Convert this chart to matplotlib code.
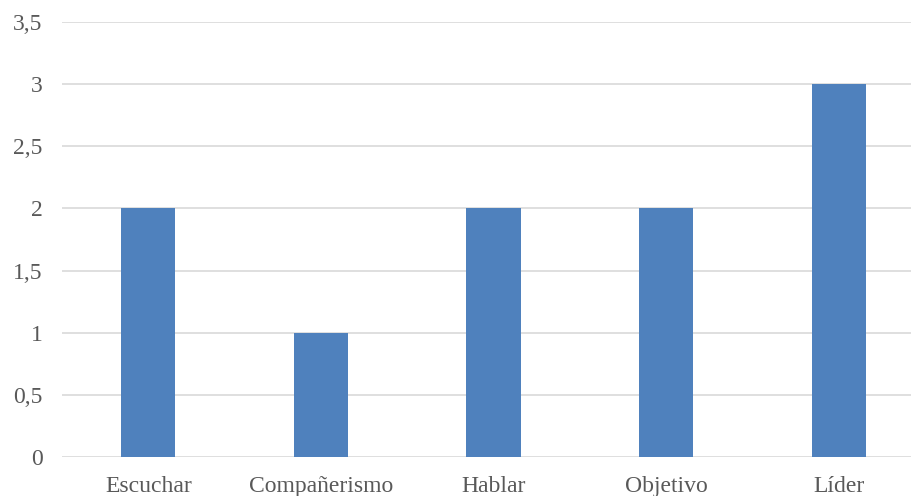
import numpy as np
import matplotlib.pyplot as plt
from matplotlib.ticker import FuncFormatter, MultipleLocator

# data
categories = ['Escuchar', 'Compañerismo', 'Hablar', 'Objetivo', 'Líder']
values = [2, 1, 2, 2, 3]

bar_color = '#4F81BD'
grid_color = '#D9D9D9'
text_color = '#595959'

plt.rcParams['font.family'] = ['Liberation Serif', 'DejaVu Serif']

W, H = 911, 496
fig = plt.figure(figsize=(W / 100, H / 100), dpi=100)
# plot area runs a bit past the right edge of the image, as in the original
ax = fig.add_axes([62 / W, (H - 457) / H, 863 / W, 435 / H])

x = np.arange(len(categories))
ax.bar(x, values, width=0.315, color=bar_color, zorder=3)

ax.set_xlim(-0.5, len(categories) - 0.5)
ax.set_ylim(0, 3.5)
ax.yaxis.set_major_locator(MultipleLocator(0.5))
ax.yaxis.set_major_formatter(FuncFormatter(lambda v, p: f'{v:g}'.replace('.', ',')))
ax.set_xticks(x)
ax.set_xticklabels(categories)

ax.grid(axis='y', color=grid_color, linewidth=1.2, zorder=0)
for s in ax.spines.values():
    s.set_visible(False)
ax.tick_params(axis='both', length=0, colors=text_color, labelsize=17)
ax.tick_params(axis='y', pad=14)
ax.tick_params(axis='x', pad=13.5)

fig.savefig('out.png', dpi=100)
